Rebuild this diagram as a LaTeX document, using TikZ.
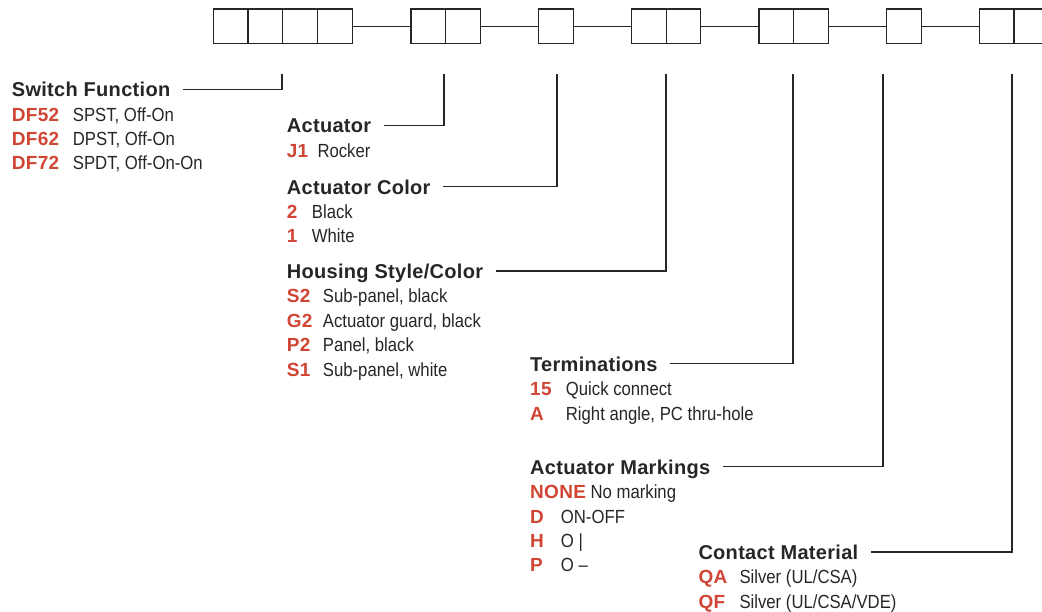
\documentclass[tikz,border=0pt]{standalone}
\usepackage{fontspec}
\setmainfont{Liberation Sans}[FakeStretch=0.88]
\newfontfamily\headfont{Liberation Sans Bold}[LetterSpace=1.5]
\usetikzlibrary{positioning}
\definecolor{codered}{RGB}{208,69,52}
\definecolor{inkgray}{RGB}{38,38,38}
\newcommand\hd[1]{{\fontsize{20}{22}\headfont #1}}
\newcommand\cd[1]{\textcolor{codered}{\headfont #1}}
\newcommand\opt[3]{\makebox[#1][l]{\cd{#2}}#3}
\tikzset{
  cell/.style={draw=inkgray,line width=1.1pt,minimum width=34.7pt,minimum height=34.3pt,inner sep=0pt,outer sep=0pt},
  link/.style={draw=inkgray,line width=1.1pt},
  leader/.style={draw=inkgray,line width=1.1pt},
  txt/.style={inner sep=0pt,text height=15pt,text depth=0pt,font=\fontsize{19}{21}\selectfont,text=inkgray},
  row/.style={txt,below right=9pt and 0pt of #1.south west}
}
\begin{document}
\begin{tikzpicture}[x=1pt,y=1pt]
\clip (0,0) rectangle (1042,-611);
% Code boxes
\node[cell,anchor=north west] (sf1) at (213.3,-9) {};
\node[cell,right=0pt of sf1] (sf2) {};
\node[cell,right=0pt of sf2] (sf3) {};
\node[cell,right=0pt of sf3] (sf4) {};
\node[cell,anchor=north west] (ac1) at (411,-9) {};
\node[cell,right=0pt of ac1] (ac2) {};
\node[cell,anchor=north west] (co1) at (538.7,-9) {};
\node[cell,anchor=north west] (ho1) at (631.5,-9) {};
\node[cell,right=0pt of ho1] (ho2) {};
\node[cell,anchor=north west] (te1) at (759,-9) {};
\node[cell,right=0pt of te1] (te2) {};
\node[cell,anchor=north west] (ma1) at (886.7,-9) {};
\node[cell,anchor=north west] (ct1) at (979.3,-9) {};
\node[cell,right=0pt of ct1] (ct2) {};
\draw[link] (sf4) -- (ac1) (ac2) -- (co1) (co1) -- (ho1) (ho2) -- (te1) (te2) -- (ma1) (ma1) -- (ct1);
% Switch function
\node[txt,anchor=base west] (sfun) at (11.7,-96.7) {\hd{Switch Function}};
\node[row=sfun] (df52) {\opt{61pt}{DF52}{SPST, Off-On}};
\node[row=df52] (df62) {\opt{61pt}{DF62}{DPST, Off-On}};
\node[row=df62] (df72) {\opt{61pt}{DF72}{SPDT, Off-On-On}};
% Actuator
\node[txt,anchor=base west] (act) at (286.7,-132.7) {\hd{Actuator}};
\node[row=act] (j1) {\opt{30.6pt}{J1}{Rocker}};
% Actuator color
\node[txt,anchor=base west] (acol) at (286.7,-194) {\hd{Actuator Color}};
\node[row=acol] (col2) {\opt{25pt}{2}{Black}};
\node[row=col2] (col1) {\opt{25pt}{1}{White}};
% Housing
\node[txt,anchor=base west] (hous) at (286.7,-278.5) {\hd{Housing Style/Color}};
\node[row=hous] (s2) {\opt{36pt}{S2}{Sub-panel, black}};
\node[row=s2] (g2) {\opt{36pt}{G2}{Actuator guard, black}};
\node[row=g2] (p2) {\opt{36pt}{P2}{Panel, black}};
\node[row=p2] (s1) {\opt{36pt}{S1}{Sub-panel, white}};
% Terminations
\node[txt,anchor=base west] (term) at (530,-371.3) {\hd{Terminations}};
\node[row=term] (t15) {\opt{35.7pt}{15}{Quick connect}};
\node[row=t15] (ta) {\opt{35.7pt}{A}{Right angle, PC thru-hole}};
% Markings
\node[txt,anchor=base west] (mark) at (530,-474.3) {\hd{Actuator Markings}};
\node[row=mark] (mnone) {\cd{NONE} No marking};
\node[row=mnone] (md) {\opt{30.7pt}{D}{ON-OFF}};
\node[row=md] (mh) {\opt{30.7pt}{H}{O |}};
\node[row=mh] (mp) {\opt{30.7pt}{P}{O --}};
% Contact material
\node[txt,anchor=base west] (cont) at (698.3,-559.5) {\hd{Contact Material}};
\node[row=cont] (qa) {\opt{41pt}{QA}{Silver (UL/CSA)}};
\node[row=qa] (qf) {\opt{41pt}{QF}{Silver (UL/CSA/VDE)}};
% Leaders
\coordinate (sfdrop) at (282,-74);
\coordinate (acdrop) at (444,-74);
\coordinate (codrop) at (557,-74);
\coordinate (hodrop) at (666,-74);
\coordinate (tedrop) at (793,-74);
\coordinate (madrop) at (883,-74);
\coordinate (ctdrop) at (1012,-74);
\draw[leader] (sfdrop) |- ([xshift=12.5pt]sfun.east);
\draw[leader] (acdrop) |- ([xshift=12.5pt]act.east);
\draw[leader] (codrop) |- ([xshift=12.5pt]acol.east);
\draw[leader] (hodrop) |- ([xshift=12.5pt]hous.east);
\draw[leader] (tedrop) |- ([xshift=12.5pt]term.east);
\draw[leader] (madrop) |- ([xshift=12.5pt]mark.east);
\draw[leader] (ctdrop) |- ([xshift=12.5pt]cont.east);
\end{tikzpicture}
\end{document}
